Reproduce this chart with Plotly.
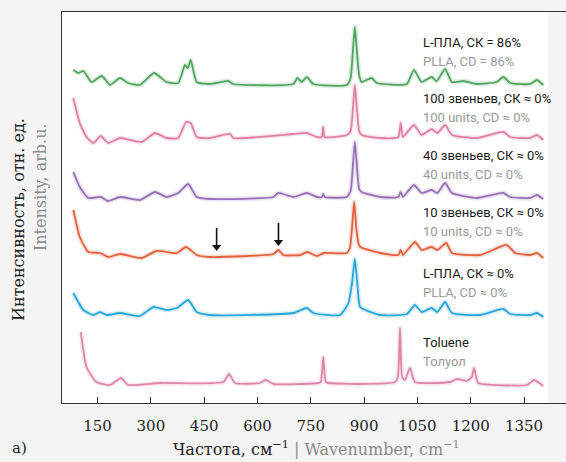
import plotly.graph_objects as go

# ---- data (wavenumber, intensity in arbitrary units, offsets as in the figure) ----
plla86_x = [82, 96, 110, 133, 162, 185, 213, 236, 269, 309, 344, 377, 396, 404, 412, 429, 466, 518, 532, 701,
            712, 724, 739, 757, 851, 862, 868, 874, 880, 886, 893, 921, 936, 1020, 1040, 1062, 1090, 1104, 1128, 1147,
            1179, 1217, 1273, 1292, 1311, 1367, 1386, 1404]
plla86_y = [333, 330, 332, 321, 327, 318, 325, 320, 318, 330, 321, 320, 338, 335, 343, 321, 319, 322, 319, 319,
            325, 321, 326, 319, 318, 325, 350, 376, 350, 328, 321, 325, 320, 319, 333, 321, 326, 322, 334, 321,
            322, 319, 321, 326, 320, 319, 323, 318]

u100_x = [82, 100, 119, 138, 159, 180, 213, 241, 274, 312, 344, 377, 399, 412, 429, 466, 523, 532, 701, 739,
          767, 781, 785, 789, 851, 862, 868, 874, 880, 886, 893, 945, 996, 1003, 1009, 1040, 1062, 1090, 1106, 1128,
          1147, 1217, 1292, 1311, 1367, 1386, 1404]
u100_y = [305, 280, 266, 260, 267, 260, 265, 263, 261, 270, 265, 265, 281, 280, 266, 265, 269, 265, 269, 270,
          266, 266, 276, 266, 268, 272, 292, 318, 292, 272, 268, 265, 266, 280, 266, 278, 268, 274, 270, 278,
          268, 265, 271, 266, 265, 268, 263]

u40_x = [82, 100, 124, 159, 180, 213, 269, 312, 344, 377, 405, 429, 466, 645, 659, 701, 739, 767, 781, 785,
         789, 851, 862, 868, 874, 880, 886, 893, 945, 996, 1003, 1009, 1040, 1062, 1090, 1106, 1128, 1147, 1217, 1292,
         1311, 1367, 1386, 1404]
u40_y = [231, 216, 205, 206, 202, 206, 203, 211, 206, 210, 219, 206, 204, 206, 210, 206, 210, 206, 206, 209,
         206, 206, 212, 235, 261, 235, 214, 211, 206, 206, 211, 206, 218, 210, 213, 210, 220, 210, 205, 210,
         206, 205, 208, 204]

u10_x = [82, 100, 124, 157, 180, 213, 274, 316, 373, 399, 429, 466, 645, 659, 672, 720, 740, 767, 787, 851,
         860, 866, 872, 878, 884, 889, 945, 996, 1003, 1009, 1043, 1062, 1090, 1106, 1131, 1147, 1226, 1301, 1325, 1367,
         1386, 1404]
u10_y = [193, 166, 151, 150, 146, 149, 145, 152, 150, 156, 148, 146, 149, 153, 148, 148, 151, 147, 150, 150,
         155, 175, 201, 175, 160, 156, 150, 148, 153, 148, 161, 153, 156, 153, 160, 150, 148, 158, 150, 148,
         150, 145]

plla0_x = [82, 110, 138, 157, 176, 213, 269, 307, 344, 373, 405, 429, 466, 701, 739, 757, 832, 856, 866, 874,
           882, 889, 945, 1020, 1043, 1062, 1090, 1106, 1128, 1147, 1226, 1292, 1311, 1367, 1386, 1404]
plla0_y = [110, 93, 88, 91, 88, 90, 87, 96, 93, 95, 103, 91, 88, 90, 95, 90, 88, 100, 120, 144,
           115, 96, 88, 89, 98, 91, 95, 91, 101, 90, 88, 94, 89, 88, 90, 86]

tol_x = [103, 119, 147, 185, 216, 236, 326, 504, 520, 537, 607, 623, 645, 771, 778, 785, 792, 799, 889, 987,
         995, 1001, 1007, 1015, 1029, 1043, 1142, 1161, 1189, 1203, 1209, 1215, 1221, 1358, 1378, 1404]
tol_y = [71, 36, 21, 18, 25, 18, 20, 21, 29, 20, 20, 23, 19, 20, 21, 46, 21, 20, 19, 21,
         26, 75, 26, 23, 35, 21, 21, 24, 22, 26, 35, 26, 20, 18, 23, 17]

labels_ru = ["L-ПЛА, СК = 86%", "100 звеньев, СК ≈ 0%", "40 звеньев, СК ≈ 0%",
             "10 звеньев, СК ≈ 0%", "L-ПЛА, СК ≈ 0%", "Toluene"]
labels_en = ["PLLA, CD = 86%", "100 units, CD ≈ 0%", "40 units, CD ≈ 0%",
             "10 units, CD ≈ 0%", "PLLA, CD ≈ 0%", "Толуол"]
label_y = [361, 305, 248, 191, 130, 61]

arrow_x = [485, 659]
arrow_tip_y = [153, 158]
arrow_len = 22

tick_vals = [150, 300, 450, 600, 750, 900, 1050, 1200, 1350]

series = [
    (plla86_x, plla86_y, "#4fa45e"),
    (u100_x, u100_y, "#e07fa3"),
    (u40_x, u40_y, "#9670b4"),
    (u10_x, u10_y, "#e2603d"),
    (plla0_x, plla0_y, "#27a6d6"),
    (tol_x, tol_y, "#de86a8"),
]

fig = go.Figure()
for xs, ys, col in series:
    fig.add_trace(go.Scatter(x=xs, y=ys, mode="lines", line=dict(color=col, width=5, shape="spline", smoothing=0.5),
                             opacity=0.18, hoverinfo="skip", showlegend=False))
    fig.add_trace(go.Scatter(x=xs, y=ys, mode="lines", line=dict(color=col, width=1.8, shape="spline", smoothing=0.5),
                             showlegend=False))

# arrows (shaft + head) drawn as traces
for ax_, ty in zip(arrow_x, arrow_tip_y):
    fig.add_trace(go.Scatter(x=[ax_, ax_], y=[ty + arrow_len, ty + 3], mode="lines",
                             line=dict(color="#111", width=1.6), showlegend=False, hoverinfo="skip"))
    fig.add_trace(go.Scatter(x=[ax_], y=[ty + 3], mode="markers",
                             marker=dict(symbol="triangle-down", size=8, color="#111", line=dict(width=0)),
                             showlegend=False, hoverinfo="skip"))

LEG_FONT = "Roboto, Liberation Sans Narrow, sans-serif"
for ru, en, yy in zip(labels_ru, labels_en, label_y):
    fig.add_annotation(x=1060, y=yy, xref="x", yref="y", text=ru, showarrow=False, xanchor="left",
                       yanchor="middle", font=dict(family=LEG_FONT, size=13, color="#1a1a1a"))
    fig.add_annotation(x=1060, y=yy - 19, xref="x", yref="y", text=en, showarrow=False, xanchor="left",
                       yanchor="middle", font=dict(family=LEG_FONT, size=13, color="#9a9a9a"))

# right edge of the plot region is grey
fig.add_shape(type="rect", xref="x", yref="y", x0=1417, x1=1470, y0=0, y1=391,
              fillcolor="#f4f4f4", line=dict(width=0), layer="below")

SERIF = "DejaVu Serif, Liberation Serif, serif"
fig.add_annotation(xref="paper", yref="paper", x=(316 - 62) / 504, y=-(448 - 403) / 391,
                   text="Частота, см<sup>−1</sup><span style='color:#8a8a8a'> | Wavenumber, cm<sup>−1</sup></span>",
                   showarrow=False, xanchor="center", yanchor="middle", font=dict(family=SERIF, size=16, color="#222"))
fig.add_annotation(xref="paper", yref="paper", x=-(62 - 19) / 504, y=-(448 - 403) / 391, text="а)",
                   showarrow=False, xanchor="center", yanchor="middle", font=dict(family=SERIF, size=15, color="#222"))
fig.add_annotation(xref="paper", yref="paper", x=-(62 - 18) / 504, y=(403 - 220) / 391,
                   text="Интенсивность, отн. ед.", textangle=-90, showarrow=False,
                   xanchor="center", yanchor="middle", font=dict(family=SERIF, size=16, color="#222"))
fig.add_annotation(xref="paper", yref="paper", x=-(62 - 40) / 504, y=(403 - 187) / 391,
                   text="Intensity, arb.u.", textangle=-90, showarrow=False,
                   xanchor="center", yanchor="middle", font=dict(family=SERIF, size=16, color="#8a8a8a"))

fig.update_layout(
    width=566, height=462,
    margin=dict(l=62, r=0, t=12, b=59),
    paper_bgcolor="#f4f4f4", plot_bgcolor="white",
    xaxis=dict(range=[50, 1468], tickvals=tick_vals, ticks="inside", ticklen=6, tickcolor="#333",
               showline=True, linecolor="#333", linewidth=1, mirror=True, showgrid=False, zeroline=False,
               ticklabelstandoff=9,
               tickfont=dict(family=SERIF, size=15, color="#222")),
    yaxis=dict(range=[0, 391], showticklabels=False, ticks="", showline=True, linecolor="#333", linewidth=1,
               showgrid=False, zeroline=False),
)
fig.write_html("out.html")
